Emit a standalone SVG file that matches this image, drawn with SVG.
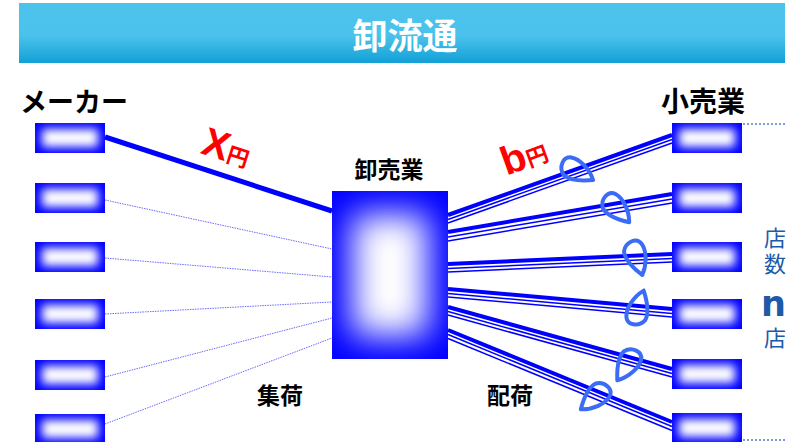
<svg xmlns="http://www.w3.org/2000/svg" width="787" height="442" viewBox="0 0 787 442">
<style>
.jp{font-family:"Noto Sans CJK JP","Noto Sans",sans-serif;}
.b{font-weight:bold;}
.lbl{font-family:"Noto Sans CJK JP",sans-serif;font-weight:bold;fill:#000;}
.red{fill:#ff0000;font-family:"Liberation Sans","Noto Sans CJK JP",sans-serif;font-weight:bold;}
.bl{fill:#1d5aa8;font-family:"DejaVu Sans","Noto Sans CJK JP",sans-serif;}
.dot{stroke:#6a6aff;stroke-width:1;stroke-dasharray:1.5 1;fill:none;}
.thick{stroke:#0000ff;stroke-width:4;fill:none;}
.thin{stroke:#0000ff;stroke-width:1.5;fill:none;}
.loop{stroke:#3b6cf5;stroke-width:4;fill:none;stroke-linecap:round;stroke-linejoin:round;}
.rdot{stroke:#4f7fc8;stroke-width:1.5;stroke-dasharray:2 2;fill:none;}
</style>
<defs>
<linearGradient id="title" x1="0" y1="0" x2="0" y2="1">
<stop offset="0" stop-color="#4dc3ec"/>
<stop offset="0.55" stop-color="#4ac2eb"/>
<stop offset="1" stop-color="#12a0d6"/>
</linearGradient>
<filter id="bs" x="-50%" y="-50%" width="200%" height="200%"><feGaussianBlur stdDeviation="5"/></filter>
<filter id="bl" x="-50%" y="-50%" width="200%" height="200%"><feGaussianBlur stdDeviation="17"/></filter>
<clipPath id="cs"><rect x="0" y="0" width="70" height="30"/></clipPath>
<g id="sb">
<rect x="0" y="0" width="70" height="30" fill="#0000ff"/>
<g clip-path="url(#cs)"><rect x="7" y="6" width="56" height="18" fill="#ffffff" filter="url(#bs)"/></g>
</g>
<clipPath id="cc"><rect x="332" y="191" width="116" height="168"/></clipPath>
<path id="loopShape" d="M35,0 C27,-9 14,-14 6,-12 C-2,-10 -2,2 6,7 C14,10 26,5 35,0"/>
</defs>

<g id="title-bar">
<rect x="19" y="3" width="766" height="60" fill="url(#title)"/>
<text x="405" y="49" text-anchor="middle" class="jp b" font-size="35" fill="#ffffff">卸流通</text>
</g>

<g id="connectors">
<line class="thick" x1="105" y1="137" x2="332" y2="211" style="stroke-width:5"/>
<line class="dot" x1="105" y1="200" x2="332" y2="249"/>
<line class="dot" x1="105" y1="258" x2="332" y2="277"/>
<line class="dot" x1="105" y1="314" x2="332" y2="302"/>
<line class="dot" x1="105" y1="377" x2="332" y2="318"/>
<line class="dot" x1="105" y1="424" x2="332" y2="338"/>

<g id="bundle1">
<line class="thick" x1="448" y1="215" x2="672" y2="135"/>
<line class="thin" x1="448" y1="219.5" x2="672" y2="139.5"/>
<line class="thin" x1="448" y1="223" x2="672" y2="143"/>
</g>
<g id="bundle2">
<line class="thick" x1="448" y1="232" x2="672" y2="194"/>
<line class="thin" x1="448" y1="237" x2="672" y2="199"/>
<line class="thin" x1="448" y1="241" x2="672" y2="203"/>
</g>
<g id="bundle3">
<line class="thick" x1="448" y1="264" x2="672" y2="254"/>
<line class="thin" x1="448" y1="268.5" x2="672" y2="258.5"/>
<line class="thin" x1="448" y1="272" x2="672" y2="262"/>
</g>
<g id="bundle4">
<line class="thick" x1="448" y1="289" x2="672" y2="309"/>
<line class="thin" x1="448" y1="293.5" x2="672" y2="313.5"/>
<line class="thin" x1="448" y1="297" x2="672" y2="317"/>
</g>
<g id="bundle5">
<line class="thick" x1="448" y1="307" x2="672" y2="369"/>
<line class="thin" x1="448" y1="311.5" x2="672" y2="373.5"/>
<line class="thin" x1="448" y1="315" x2="672" y2="377"/>
</g>
<g id="bundle6">
<line class="thick" x1="448" y1="330" x2="672" y2="422"/>
<line class="thin" x1="448" y1="334.5" x2="672" y2="426.5"/>
<line class="thin" x1="448" y1="338.5" x2="672" y2="430.5"/>
</g>

<use href="#loopShape" class="loop" transform="translate(561,166) rotate(23.6)"/>
<use href="#loopShape" class="loop" transform="translate(603,199) rotate(41.5)"/>
<use href="#loopShape" class="loop" transform="translate(628,243) rotate(66)"/>
<use href="#loopShape" class="loop" transform="translate(637,325) rotate(-79)"/>
<use href="#loopShape" class="loop" transform="translate(633,349) rotate(116.6)"/>
<use href="#loopShape" class="loop" transform="translate(605,384) rotate(133.7)"/>

<line class="rdot" x1="743" y1="124" x2="787" y2="124"/>
<line class="rdot" x1="743" y1="440" x2="787" y2="440"/>
</g>

<g id="maker-label"><text x="20" y="112" class="lbl" font-size="27">メーカー</text></g>
<g id="retail-label"><text x="661" y="112" class="lbl" font-size="28">小売業</text></g>
<g id="maker1"><use href="#sb" x="35" y="123"/></g>
<g id="maker2"><use href="#sb" x="35" y="183"/></g>
<g id="maker3"><use href="#sb" x="35" y="242"/></g>
<g id="maker4"><use href="#sb" x="35" y="299"/></g>
<g id="maker5"><use href="#sb" x="35" y="360"/></g>
<g id="maker6"><use href="#sb" x="35" y="414"/></g>

<g id="retail1"><use href="#sb" x="672" y="123"/></g>
<g id="retail2"><use href="#sb" x="672" y="183"/></g>
<g id="retail3"><use href="#sb" x="672" y="242"/></g>
<g id="retail4"><use href="#sb" x="672" y="299"/></g>
<g id="retail5"><use href="#sb" x="672" y="359"/></g>
<g id="retail6"><use href="#sb" x="672" y="413"/></g>

<g id="wholesaler">
<rect x="332" y="191" width="116" height="168" fill="#0000ff"/>
<g clip-path="url(#cc)"><rect x="352" y="214" width="76" height="122" fill="#ffffff" filter="url(#bl)"/></g>
<text x="389" y="178" text-anchor="middle" class="lbl" font-size="23">卸売業</text>
</g>

<g id="labels">
<text x="257" y="404" class="lbl" font-size="23">集荷</text>
<text x="487" y="404" class="lbl" font-size="23">配荷</text>
<text class="red" transform="translate(199.5,153) rotate(18)" font-size="40">X<tspan font-size="22" font-family="Noto Sans CJK JP,sans-serif">円</tspan></text>
<text class="red" transform="translate(506.5,175.8) rotate(-20)" font-size="40">b<tspan font-size="22" font-family="Noto Sans CJK JP,sans-serif">円</tspan></text>
<text x="764" y="246" class="bl" font-size="22">店</text>
<text x="764" y="272" class="bl" font-size="22">数</text>
<text x="761" y="316" class="bl" font-size="35" font-weight="bold" font-family="Liberation Sans,sans-serif">n</text>
<text x="764" y="346" class="bl" font-size="22">店</text>
</g>
</svg>
